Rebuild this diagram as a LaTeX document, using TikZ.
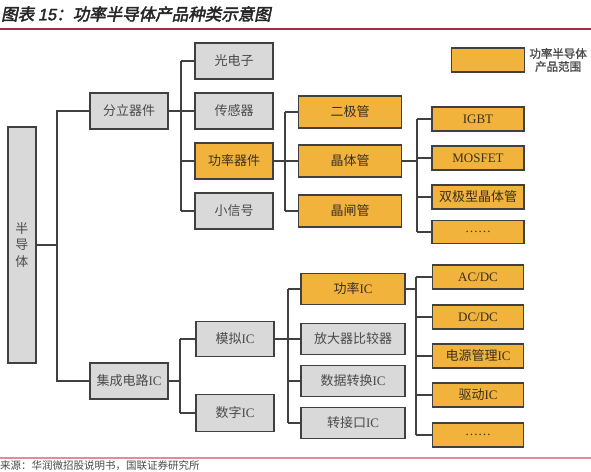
\documentclass[tikz,border=0pt]{standalone}
\usepackage{fontspec}
\setmainfont{Liberation Serif}
\newfontfamily\cjk{Noto Sans CJK SC}
\newfontfamily\cjktitle[FakeBold=2.5,FakeSlant=0.2]{Noto Sans CJK SC}
\newfontfamily\cjkbold[FakeBold=1.5]{Noto Sans CJK SC}
\newfontfamily\numtitle[FakeBold=2,FakeSlant=0.2]{Liberation Sans}
\usetikzlibrary{positioning}
\definecolor{semiGrey}{HTML}{d9d9d9}
\definecolor{semiOrange}{HTML}{f2b33d}
\definecolor{semiLine}{HTML}{404040}
\definecolor{semiText}{HTML}{4a4a4a}
\definecolor{semiDark}{HTML}{3a3020}
\definecolor{semiMaroon}{HTML}{a8284e}
\definecolor{semiPink}{HTML}{e48a9c}
\newcommand\en[1]{{\rmfamily #1}}
\tikzset{
  gbox/.style={draw=semiLine, fill=semiGrey, line width=1.3pt, text=semiText,
              align=center, inner sep=0pt, font=\cjk\fontsize{13}{16.5}\selectfont},
  obox/.style={draw=semiLine, fill=semiOrange, line width=1.3pt, text=semiDark,
              align=center, inner sep=0pt, font=\cjk\fontsize{13}{16}\selectfont},
  lvl1/.style={minimum width=78pt, minimum height=36pt},
  lvl2/.style={minimum width=103pt, minimum height=32pt},
  lvl3/.style={minimum width=92pt, minimum height=24pt},
  link/.style={draw=semiLine, line width=1.3pt},
}
\begin{document}
\begin{tikzpicture}[x=1pt,y=-1pt]
  \useasboundingbox (0,0) rectangle (591,471);
  \clip (0,0) rectangle (591,471);

  % title and rules
  \node[anchor=west,inner sep=0pt,text=black!85] (title) at (1,14)
    {\cjktitle\fontsize{16.5}{18}\selectfont 图表 {\numtitle 15}：功率半导体产品种类示意图};
  \draw[semiMaroon,line width=1.2pt] (0,29) -- (591,29);
  \draw[semiPink,line width=1.4pt] (0,458) -- (591,458);
  \node[anchor=west,inner sep=0pt,text=semiText] (src) at (0,465.5)
    {\cjk\fontsize{10.5}{12}\selectfont 来源：华润微招股说明书，国联证券研究所};

  % legend
  \node[obox,minimum width=73pt,minimum height=24pt] (key) at (488,60){};
  \node[font=\cjkbold\fontsize{11.5}{13}\selectfont,text=semiText,align=center,inner sep=0pt,
        right=4pt of key] (keytxt) {功率半导体\\产品范围};

  % root
  \node[gbox,minimum width=28pt,minimum height=236pt] (semi) at (22,245){半\\导\\体};

  % discrete devices
  \node[gbox,lvl1] (disc) at (129,111){分立器件};
  \node[gbox,lvl1] (opto) at (234,61){光电子};
  \node[gbox,lvl1] (sens) at (234,111){传感器};
  \node[obox,lvl1] (pdev) at (234,161){功率器件};
  \node[gbox,lvl1] (sig)  at (234,211){小信号};
  \node[obox,lvl2] (diode) at (350,112){二极管};
  \node[obox,lvl2] (trans) at (350,161){晶体管};
  \node[obox,lvl2] (thyr)  at (350,211){晶闸管};
  \node[obox,lvl3] (igbt) at (478,119){\en{IGBT}};
  \node[obox,lvl3] (mos)  at (478,158){\en{MOSFET}};
  \node[obox,lvl3] (bjt)  at (478,197){双极型晶体管};
  \node[obox,lvl3,minimum height=23pt] (tdots) at (478,232){\en{……}};

  % integrated circuits
  \node[gbox,lvl1] (icc) at (129,381){集成电路\en{IC}};
  \node[gbox,lvl1,minimum height=35pt] (ana) at (235,339){模拟\en{IC}};
  \node[gbox,lvl1,minimum height=37pt] (dig) at (235,413){数字\en{IC}};
  \node[obox,minimum width=104pt,minimum height=31pt] (pic)  at (353,289){功率\en{IC}};
  \node[gbox,minimum width=104pt,minimum height=31pt] (amp)  at (353,339){放大器比较器};
  \node[gbox,minimum width=104pt,minimum height=31pt] (adc)  at (353,381){数据转换\en{IC}};
  \node[gbox,minimum width=104pt,minimum height=31pt] (intf) at (353,423){转接口\en{IC}};
  \node[obox,lvl3,minimum width=91pt] (acdc) at (478,277){\en{AC/DC}};
  \node[obox,lvl3,minimum width=91pt] (dcdc) at (478,317){\en{DC/DC}};
  \node[obox,lvl3,minimum width=91pt] (pm)   at (478,356){电源管理\en{IC}};
  \node[obox,lvl3,minimum width=91pt] (drv)  at (478,395){驱动\en{IC}};
  \node[obox,lvl3,minimum width=91pt] (idots) at (478,435){\en{……}};

  % bus lines
  \coordinate (b0) at (57,245);
  \coordinate (b1) at (181,111);
  \coordinate (b2) at (285,161);
  \coordinate (b3) at (417,161);
  \coordinate (b4) at (180,381);
  \coordinate (b5) at (288,339);
  \coordinate (b6) at (416,289);

  \draw[link] (semi.east) -- (b0);
  \draw[link] (disc.west) -| (b0) |- (icc.west);

  \draw[link] (disc.east) -- (b1);
  \draw[link] (opto.west -| b1) -- (sig.west -| b1);
  \foreach \c in {opto,sens,pdev,sig} \draw[link] (\c.west) -- (\c.west -| b1);

  \draw[link] (pdev.east) -- (b2);
  \draw[link] (diode.west -| b2) -- (thyr.west -| b2);
  \foreach \c in {diode,trans,thyr} \draw[link] (\c.west) -- (\c.west -| b2);

  \draw[link] (trans.east) -- (b3);
  \draw[link] (igbt.west -| b3) -- (tdots.west -| b3);
  \foreach \c in {igbt,mos,bjt,tdots} \draw[link] (\c.west) -- (\c.west -| b3);

  \draw[link] (icc.east) -- (b4);
  \draw[link] (ana.west -| b4) -- (dig.west -| b4);
  \foreach \c in {ana,dig} \draw[link] (\c.west) -- (\c.west -| b4);

  \draw[link] (ana.east) -- (b5);
  \draw[link] (pic.west -| b5) -- (intf.west -| b5);
  \foreach \c in {pic,amp,adc,intf} \draw[link] (\c.west) -- (\c.west -| b5);

  \draw[link] (pic.east) -- (b6);
  \draw[link] (acdc.west -| b6) -- (idots.west -| b6);
  \foreach \c in {acdc,dcdc,pm,drv,idots} \draw[link] (\c.west) -- (\c.west -| b6);
\end{tikzpicture}
\end{document}
